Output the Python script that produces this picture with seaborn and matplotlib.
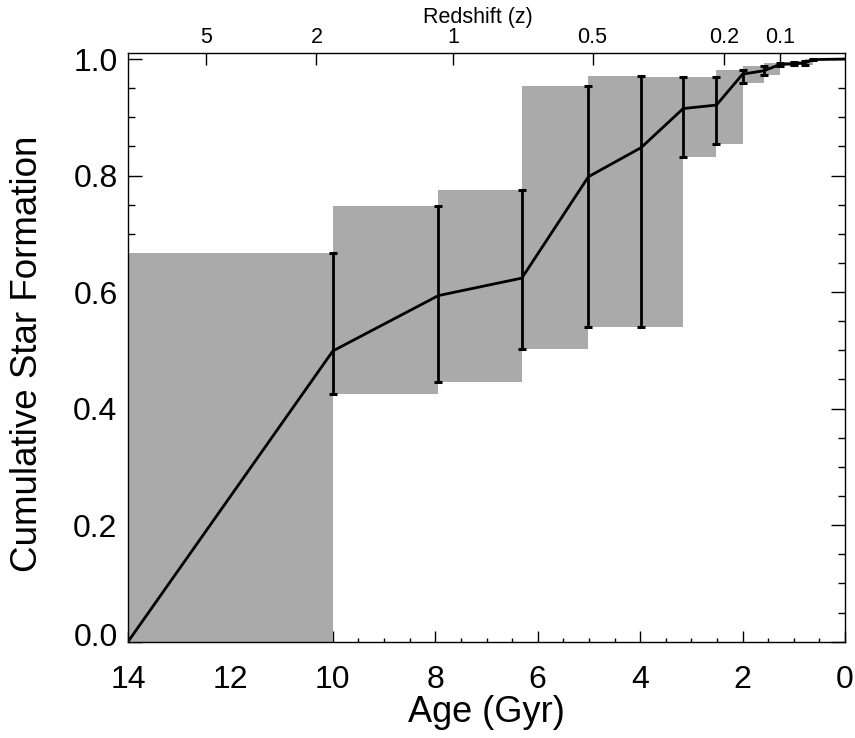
import numpy as np
import pandas as pd
import matplotlib
matplotlib.use("Agg")
import matplotlib.pyplot as plt
from matplotlib.ticker import MultipleLocator, FormatStrFormatter, FixedLocator, NullLocator
from matplotlib.transforms import ScaledTranslation
import seaborn as sns

# ---- data ----
ages = [14.0, 10.0, 7.94, 6.31, 5.01, 3.98, 3.16, 2.51, 2.00, 1.58, 1.26, 1.00, 0.79, 0.63, 0.0]
csf = [0.0, 0.499, 0.594, 0.624, 0.798, 0.848, 0.915, 0.921, 0.974, 0.980, 0.991, 0.992, 0.993, 0.999, 1.0]
csf_lo = [0.0, 0.425, 0.446, 0.503, 0.540, 0.540, 0.831, 0.854, 0.958, 0.972, 0.988, 0.989, 0.990, 0.998, 1.0]
csf_hi = [0.0, 0.667, 0.748, 0.775, 0.953, 0.971, 0.970, 0.970, 0.982, 0.988, 0.994, 0.995, 0.996, 1.0, 1.0]

redshift_labels = ["5", "2", "1", "0.5", "0.2", "0.1"]
redshift_ages = [12.48, 10.32, 7.65, 4.93, 2.36, 1.27]

x_ticks = [14, 12, 10, 8, 6, 4, 2, 0]
y_ticks = [0.0, 0.2, 0.4, 0.6, 0.8, 1.0]

df = pd.DataFrame({"age": ages, "csf": csf, "lo": csf_lo, "hi": csf_hi})

sns.set_theme(style="ticks")
plt.rcParams["font.family"] = ["Liberation Sans", "DejaVu Sans"]
for k in ["text.color", "axes.labelcolor", "xtick.color", "ytick.color", "axes.edgecolor"]:
    plt.rcParams[k] = "black"

W, H = 855, 738
fig = plt.figure(figsize=(W / 100, H / 100), dpi=100)
L, R, B, T = 128, 845, 641.7, 52.5
ax = fig.add_axes([L / W, 1 - B / H, (R - L) / W, (B - T) / H])

# gray envelope boxes between consecutive points
a = np.array(ages)
left = a[:-1]
width = a[1:] - a[:-1]
bottom = np.array(csf_lo[:-1])
height = np.array(csf_hi[1:]) - bottom
ax.bar(left, height, width=width, bottom=bottom, align="edge",
       color="#aaaaaa", edgecolor="none", linewidth=0, zorder=1)

# line
sns.lineplot(data=df, x="age", y="csf", sort=False, color="black",
             linewidth=2.0, ax=ax, zorder=3, estimator=None)

# error bars
m = df["hi"] > df["lo"]
ax.errorbar(df.loc[m, "age"], df.loc[m, "csf"],
            yerr=[df.loc[m, "csf"] - df.loc[m, "lo"], df.loc[m, "hi"] - df.loc[m, "csf"]],
            fmt="none", ecolor="black", elinewidth=2.0, capsize=2.6, capthick=2.2, zorder=4)

ax.set_xlim(14, 0)
ax.set_ylim(0, 1.0112)
ax.set_xlabel("")
ax.set_ylabel("")

for s in ax.spines.values():
    s.set_visible(True)
    s.set_linewidth(1.0)
    s.set_color("black")

ax.xaxis.set_major_locator(FixedLocator(x_ticks))
ax.xaxis.set_minor_locator(MultipleLocator(0.5))
ax.yaxis.set_major_locator(FixedLocator(y_ticks))
ax.yaxis.set_minor_locator(MultipleLocator(0.05))
ax.yaxis.set_major_formatter(FormatStrFormatter("%.1f"))
ax.xaxis.set_major_formatter(FormatStrFormatter("%d"))

ax.tick_params(axis="x", which="major", direction="in", length=7.7, width=1.0,
               top=False, bottom=True, labelsize=23, pad=16.5, color="black", labelcolor="black")
ax.tick_params(axis="x", which="minor", direction="in", length=3.1, width=1.0,
               top=False, bottom=True, color="black")
ax.tick_params(axis="y", which="major", direction="in", length=9.9, width=1.0,
               left=True, right=True, labelsize=23, pad=7.5, color="black", labelcolor="black")
ax.tick_params(axis="y", which="minor", direction="in", length=5.0, width=1.0,
               left=True, right=True, color="black")

# the 0.0 label sits slightly above its tick in the reference
fig.canvas.draw()
for tick in ax.yaxis.get_major_ticks():
    if abs(tick.get_loc()) < 1e-9:
        lab = tick.label1
        lab.set_transform(lab.get_transform() + ScaledTranslation(0, 7 / 100, fig.dpi_scale_trans))

# top redshift axis
ax2 = ax.twiny()
ax2.set_xlim(ax.get_xlim())
ax2.xaxis.set_major_locator(FixedLocator(redshift_ages))
ax2.xaxis.set_minor_locator(NullLocator())
ax2.set_xticklabels(redshift_labels)
ax2.tick_params(axis="x", which="major", direction="in", length=8.5, width=1.0,
                top=True, bottom=False, labelsize=15.5, pad=3, color="black", labelcolor="black")
for s in ax2.spines.values():
    s.set_visible(False)

fig.text(478 / W, 1 - 22.7 / H, "Redshift (z)", ha="center", va="baseline", fontsize=15.5)
fig.text(486 / W, 1 - 722 / H, "Age (Gyr)", ha="center", va="baseline", fontsize=26)
fig.text(28 / W, 1 - 354 / H, "Cumulative Star Formation", ha="center", va="center",
         rotation=90, fontsize=26.5)

fig.savefig("out.png", dpi=100)
